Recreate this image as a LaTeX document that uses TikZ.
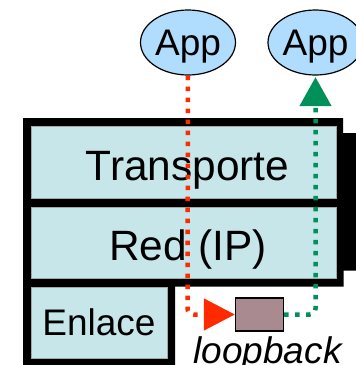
\documentclass[tikz,border=0pt]{standalone}
\usepackage{fontspec}
\setmainfont{Liberation Sans}
\usetikzlibrary{arrows.meta,shapes.geometric}
\definecolor{layerfill}{HTML}{C6E6EA}
\definecolor{appfill}{HTML}{B0DCFE}
\definecolor{lbfill}{HTML}{A88A90}
\definecolor{redpath}{HTML}{FF2A00}
\definecolor{greenpath}{HTML}{00905A}
\tikzset{
  app/.style={ellipse, draw=black, line width=1.2pt, fill=appfill, minimum width=95pt, minimum height=65pt, inner sep=0pt},
  layer/.style={draw=gray!70, line width=0.6pt, fill=layerfill, inner sep=0pt},
  bigtext/.style={font=\fontsize{42.4}{48}\selectfont, inner sep=0pt, anchor=base},
  smalltext/.style={font=\fontsize{37}{42}\selectfont, inner sep=0pt, anchor=base},
  lbbox/.style={draw=black, line width=1.2pt, fill=lbfill, minimum width=48pt, minimum height=33pt, inner sep=0pt},
  dotline/.style={line width=4.5pt, dash pattern=on 4.5pt off 6.5pt, rounded corners=6pt},
}
\begin{document}
\begin{tikzpicture}[x=1pt,y=-1pt]
\clip (0,0) rectangle (356,365);
\fill[white] (0,0) rectangle (356,365);
% black frame
\fill[black] (23,118) -- (343,118) -- (343,133) -- (356,133) -- (356,270.5) -- (343.5,270.5) -- (343.5,286.5) -- (175,286.5) -- (175,366) -- (23,366) -- cycle;
% layers
\node[layer, minimum width=305pt, minimum height=72pt] (trans) at (183.5,162) {};
\node[layer, minimum width=305pt, minimum height=71pt] (red) at (183.5,242.5) {};
\node[layer, minimum width=136pt, minimum height=71pt] (enl) at (99,322.5) {};
\node[bigtext] (transT) at (187.5,180) {Transporte};
\node[bigtext] (redT) at (188,260) {Red (IP)};
\node[smalltext] (enlT) at (99,335) {Enlace};
% apps
\node[app] (app1) at (188,42.5) {};
\node[app] (app2) at (315.5,42.5) {};
\node[smalltext] (app1T) at (188,55) {App};
\node[smalltext] (app2T) at (315.5,55) {App};
% loopback
\node[lbbox] (lb) at (259.5,314.5) {};
\node[smalltext, font=\fontsize{37}{42}\selectfont\itshape] (lbT) at (267.5,363.5) {loopback};
\coordinate (rc) at (187.5,314.5);
\coordinate (gc) at (315.5,314.5);
% connectors
\draw[dotline, redpath, -{Triangle[length=31pt,width=31pt]}] (app1.south) -- (rc) -- (lb.west);
\draw[dotline, greenpath, shorten >=1.5pt, -{Triangle[length=29pt,width=31pt]}] (lb.east) -- (gc) -- (app2.south);
\end{tikzpicture}
\end{document}
